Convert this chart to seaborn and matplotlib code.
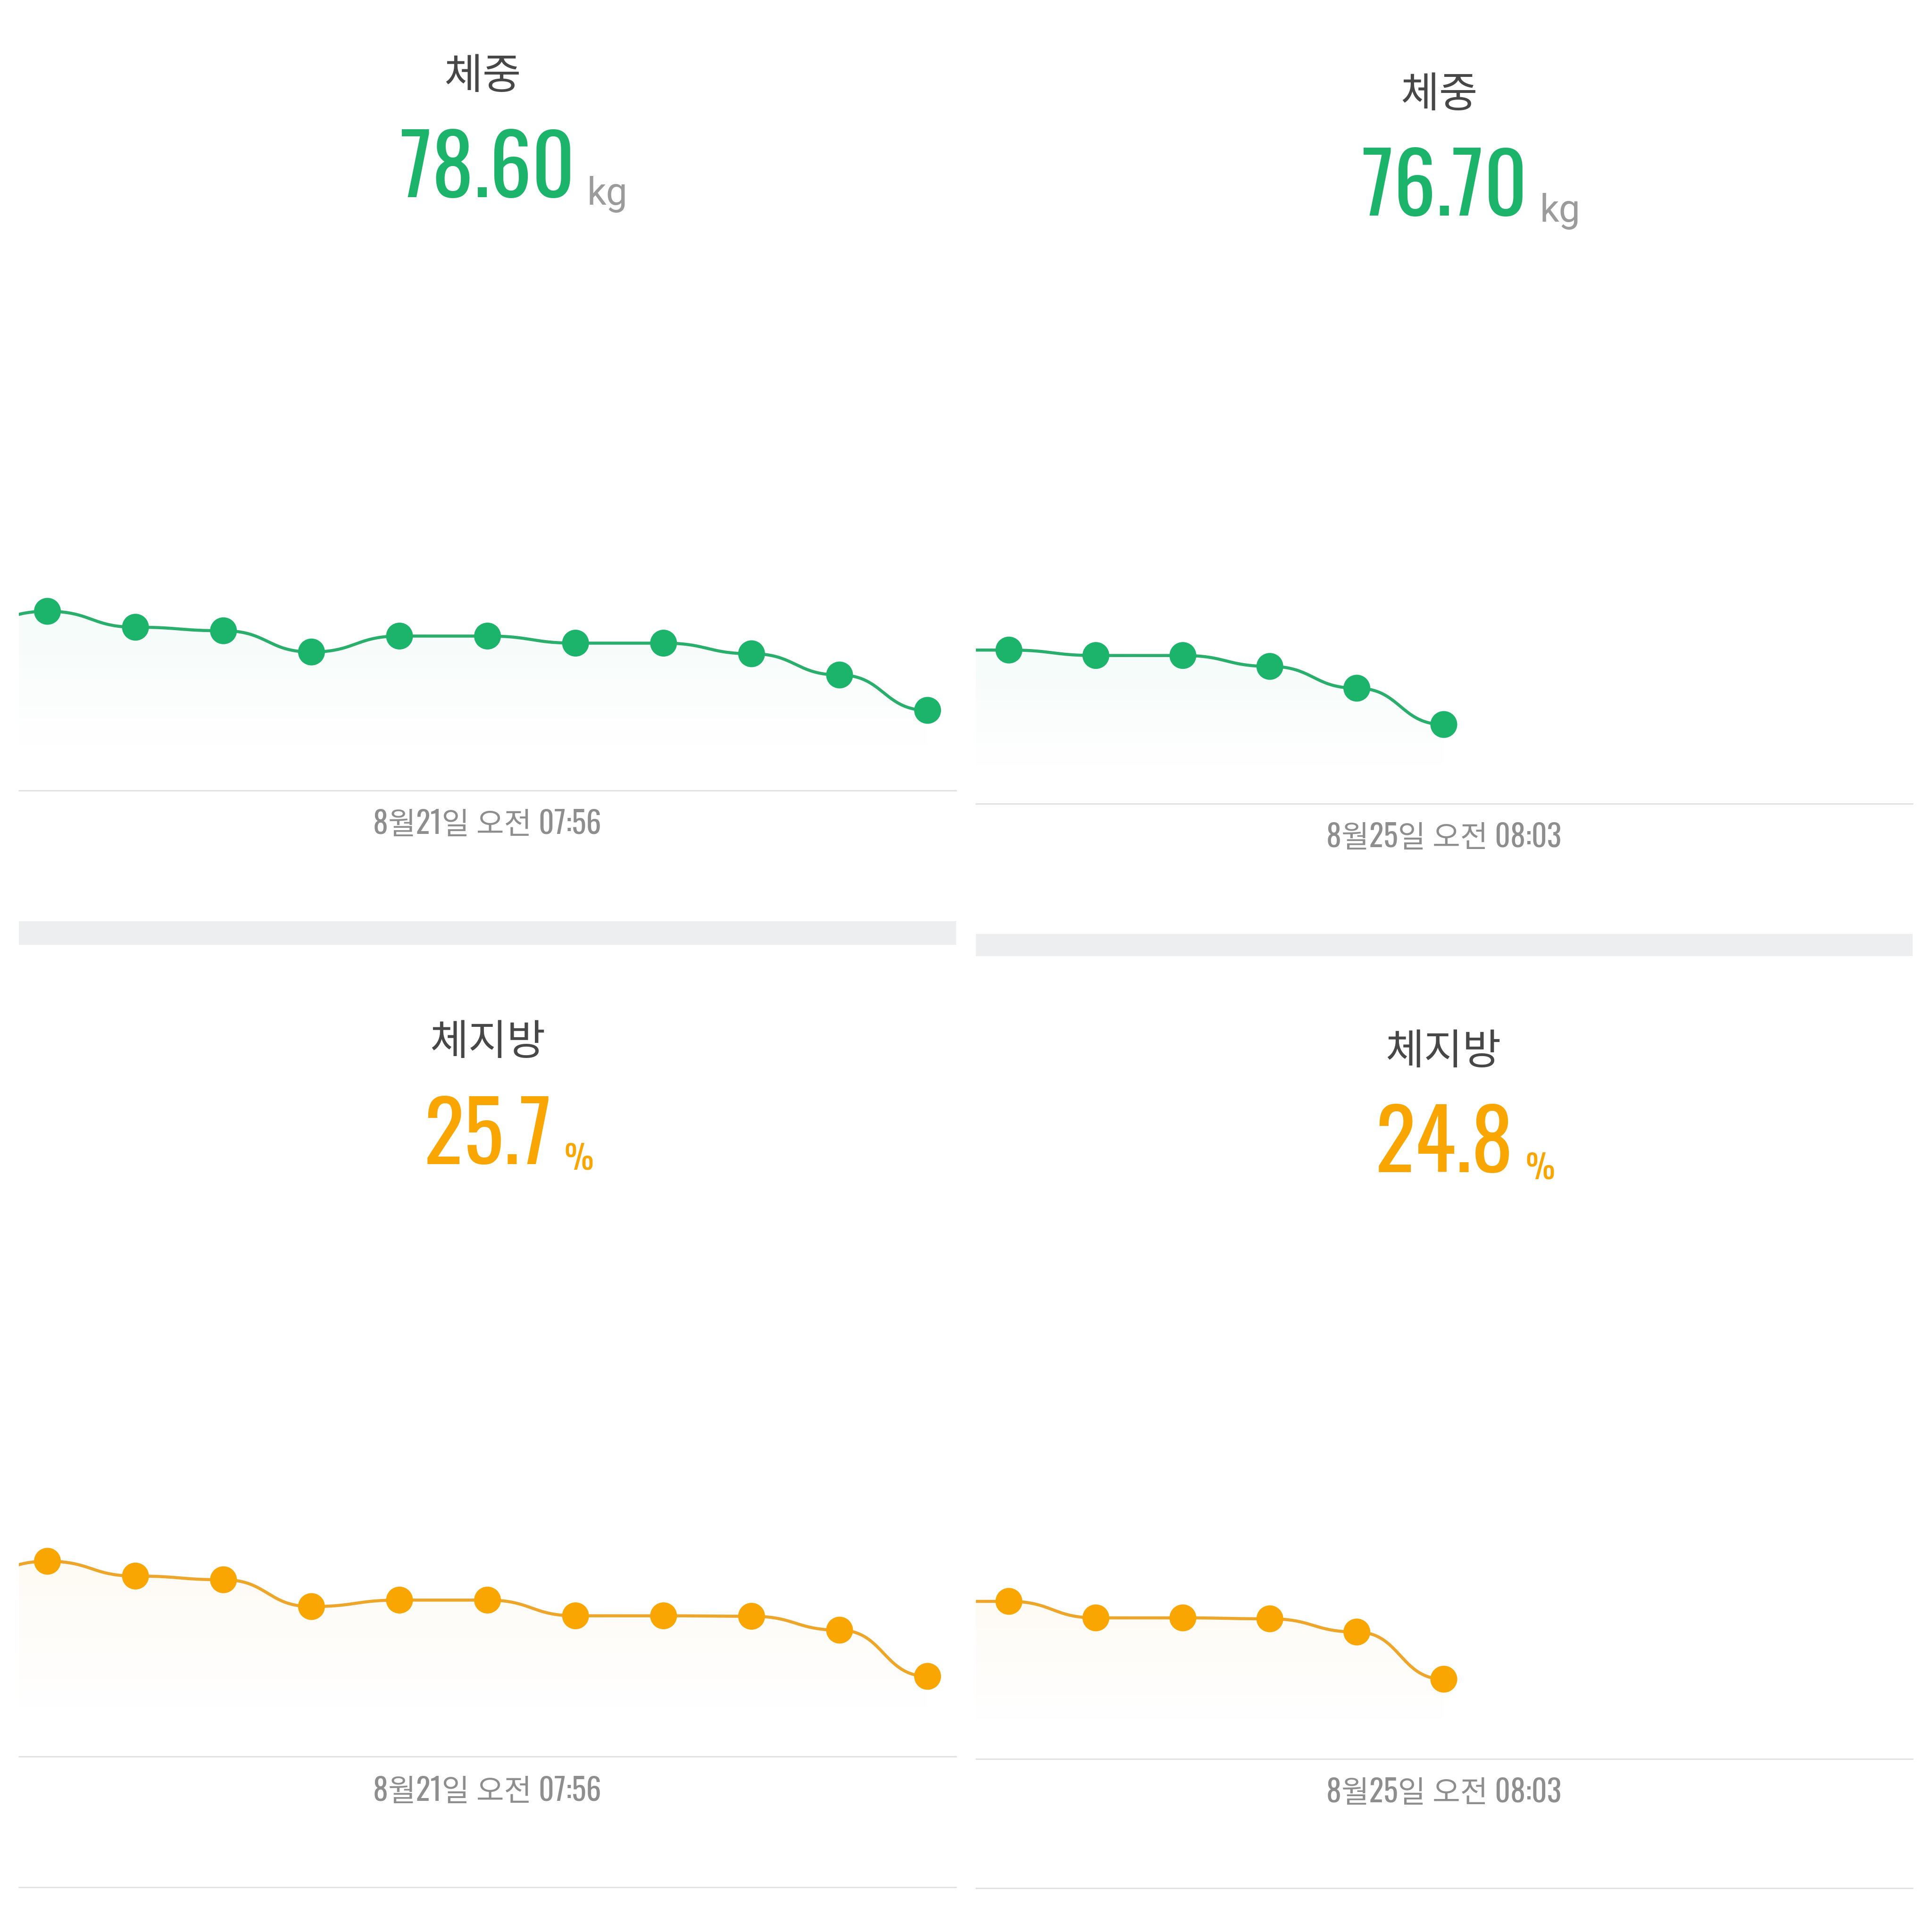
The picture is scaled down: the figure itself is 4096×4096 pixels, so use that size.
import numpy as np
import pandas as pd
import matplotlib
matplotlib.use('Agg')
import matplotlib.pyplot as plt
from matplotlib.patches import Rectangle, PathPatch
from matplotlib.lines import Line2D
import seaborn as sns

# ---- data ----
weight_title = '체중'
fat_title = '체지방'
weight_unit = 'kg'
fat_unit = '%'

# left column: 11 readings up to 8/21, right column: 6 readings up to 8/25
# (the *_before value is the reading just off the left edge of the chart)
weight_21_before = 80.95
weight_21 = [81.40, 80.95, 80.85, 80.25, 80.70, 80.70, 80.50, 80.50, 80.20, 79.60, 78.60]
weight_25_before = 78.75
weight_25 = [78.75, 78.60, 78.60, 78.30, 77.70, 76.70]

fat_21_before = 27.80
fat_21 = [28.19, 27.87, 27.79, 27.21, 27.35, 27.35, 27.01, 27.01, 27.00, 26.70, 25.70]
fat_25_before = 26.45
fat_25 = [26.45, 26.10, 26.10, 26.08, 25.80, 24.80]

weight_labels = ['78.60', '76.70']
fat_labels = ['25.7', '24.8']
date_labels = ['8월21일 오전 07:56', '8월25일 오전 08:03']

GREEN = '#1bb46a'
GREEN_LINE = '#2aae6c'
ORANGE = '#f9a602'
ORANGE_LINE = '#eea62a'

W = H = 4096

sns.set_theme(style='white')
plt.rcParams['font.family'] = ['Noto Sans CJK KR', 'DejaVu Sans']

NUM_FONT = ['Oswald', 'Roboto Condensed', 'Liberation Sans Narrow', 'DejaVu Sans']
DATE_FONT = ['Oswald', 'Roboto Condensed', 'Noto Sans CJK KR', 'DejaVu Sans']


def hbezier(xs, ys, n=40):
    # cubic bezier between neighbours with horizontal tangents at every point
    px, py = [], []
    t = np.linspace(0, 1, n)
    for i in range(len(xs) - 1):
        x0, x1, y0, y1 = xs[i], xs[i + 1], ys[i], ys[i + 1]
        xm = (x0 + x1) / 2
        a, b, c, d = (1 - t) ** 3, 3 * t * (1 - t) ** 2, 3 * t ** 2 * (1 - t), t ** 3
        px.append(a * x0 + b * xm + c * xm + d * x1)
        py.append(a * y0 + b * y0 + c * y1 + d * y1)
    return np.concatenate(px), np.concatenate(py)


def box(x0, y0, x1, y1):
    return [x0 / W, 1 - y1 / H, (x1 - x0) / W, (y1 - y0) / H]


fig = plt.figure(figsize=(W / 100, H / 100), dpi=100)
fig.patch.set_facecolor('white')

panels = [
    dict(vals=weight_21, before=weight_21_before, color=GREEN, line=GREEN_LINE, title=weight_title,
         label=weight_labels[0], unit=weight_unit, unit_color='#9b9b9b', date=date_labels[0],
         xl=40, xr=2027, px0=100.6, dx=186.6, ytop=1000, base=1676, ylast=1506, k=75,
         tpos=(1023, 163), npos=(1033, 418), ubase=434, dpos=(1033, 1748)),
    dict(vals=weight_25, before=weight_25_before, color=GREEN, line=GREEN_LINE, title=weight_title,
         label=weight_labels[1], unit=weight_unit, unit_color='#9b9b9b', date=date_labels[1],
         xl=2069, xr=4055, px0=2139, dx=184.4, ytop=1000, base=1704, ylast=1536, k=77,
         tpos=(3051, 202), npos=(3062, 457), ubase=470, dpos=(3061, 1776)),
    dict(vals=fat_21, before=fat_21_before, color=ORANGE, line=ORANGE_LINE, title=fat_title,
         label=fat_labels[0], unit=fat_unit, unit_color=ORANGE, date=date_labels[0],
         xl=40, xr=2027, px0=100.6, dx=186.6, ytop=3000, base=3724, ylast=3554, k=98,
         tpos=(1034, 2211), npos=(1035, 2468), ubase=2479, dpos=(1033, 3798)),
    dict(vals=fat_25, before=fat_25_before, color=ORANGE, line=ORANGE_LINE, title=fat_title,
         label=fat_labels[1], unit=fat_unit, unit_color=ORANGE, date=date_labels[1],
         xl=2069, xr=4055, px0=2139, dx=184.4, ytop=3000, base=3729, ylast=3560, k=100,
         tpos=(3060, 2231), npos=(3062, 2485), ubase=2499, dpos=(3061, 3801)),
]

PT = 72 / 100  # points per pixel

for p in panels:
    vals = p['vals']
    idx = np.arange(len(vals))
    ax = fig.add_axes(box(p['xl'], p['ytop'], p['xr'], p['base']))
    x_lo = (p['xl'] - p['px0']) / p['dx']
    x_hi = (p['xr'] - p['px0']) / p['dx']
    y_lo = vals[-1] - (p['base'] - p['ylast']) / p['k']
    y_hi = vals[-1] + (p['ylast'] - p['ytop']) / p['k']

    cx, cy = hbezier(np.r_[-1, idx], np.r_[p['before'], vals])
    df = pd.DataFrame({'x': cx, 'y': cy})

    # soft gradient under the curve
    rgb = matplotlib.colors.to_rgb(p['color'])
    grad = np.zeros((256, 1, 4))
    grad[..., :3] = rgb
    grad[:, 0, 3] = np.clip(np.linspace(0.045, -0.01, 256), 0, None)
    im = ax.imshow(grad, extent=[x_lo, x_hi, y_lo, cy.max()], aspect='auto', origin='upper', zorder=1)
    verts = np.r_[np.c_[cx, cy], [[cx[-1], y_lo], [cx[0], y_lo]]]
    clip = PathPatch(matplotlib.path.Path(verts), transform=ax.transData, facecolor='none', edgecolor='none')
    ax.add_patch(clip)
    im.set_clip_path(clip)

    sns.lineplot(data=df, x='x', y='y', ax=ax, color=p['line'], linewidth=6.5 * PT,
                 estimator=None, sort=False, zorder=2)
    sns.scatterplot(x=idx, y=vals, ax=ax, s=(57 * PT) ** 2, color=p['color'], edgecolor='none',
                    linewidth=0, zorder=3)
    ax.set_xlim(x_lo, x_hi)
    ax.set_ylim(y_lo, y_hi)
    ax.set_axis_off()

    # baseline under the chart
    fig.add_artist(Line2D([p['xl'] / W, p['xr'] / W], [1 - p['base'] / H] * 2,
                          color='#e2e2e2', linewidth=3 * PT))

    tx, ty = p['tpos']
    fig.text(tx / W, 1 - ty / H, p['title'], ha='center', va='center', fontsize=64,
             color='#474747', family=['Noto Sans CJK KR', 'DejaVu Sans'])
    nx, ny = p['npos']
    num = fig.text(nx / W, 1 - ny / H, p['label'], ha='center', va='baseline', fontsize=128,
                   color=p['color'], family=NUM_FONT)
    if p['unit'] == 'kg':
        ufam, usize = ['Roboto', 'DejaVu Sans'], 58
    else:
        ufam, usize = NUM_FONT, 50
    fig.add_artist(matplotlib.text.Annotation(
        p['unit'], xy=(1.0, H - p['ubase']), xycoords=(num, 'figure pixels'),
        xytext=(26 * PT, 0), textcoords='offset points', ha='left', va='baseline',
        fontsize=usize, color=p['unit_color'], family=ufam))
    dx_, dy_ = p['dpos']
    fig.text(dx_ / W, 1 - dy_ / H, p['date'], ha='center', va='center', fontsize=46,
             color='#8e8e8e', family=DATE_FONT, weight='light')

# separators
fig.add_artist(Rectangle((40 / W, 1 - 2003 / H), (2027 - 40) / W, 50 / H, transform=fig.transFigure,
                         facecolor='#edeef0', edgecolor='none'))
fig.add_artist(Rectangle((2069 / W, 1 - 2027 / H), (4055 - 2069) / W, 47 / H, transform=fig.transFigure,
                         facecolor='#edeef0', edgecolor='none'))
fig.add_artist(Line2D([40 / W, 2027 / W], [1 - 4001 / H] * 2, color='#e2e2e2', linewidth=3 * PT))
fig.add_artist(Line2D([2069 / W, 4055 / W], [1 - 4003 / H] * 2, color='#e2e2e2', linewidth=3 * PT))

fig.savefig('out.png', dpi=100, facecolor='white')
